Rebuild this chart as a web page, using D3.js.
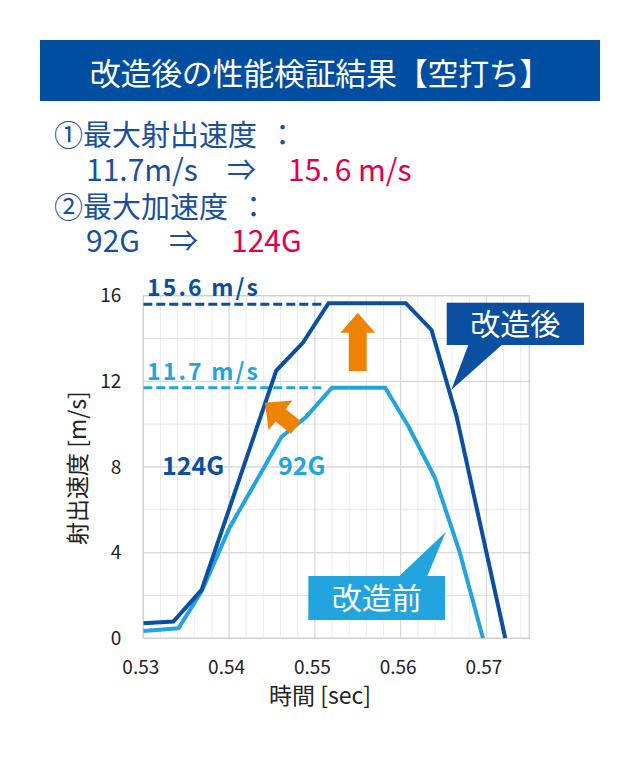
<!DOCTYPE html>
<html><head><meta charset="utf-8">
<script src="https://cdn.jsdelivr.net/npm/d3@7"></script>
<style>body{margin:0;background:#fff}svg{display:block}</style>
</head><body><svg id="c" width="640" height="760"></svg>
<script>
// ---- data ----
const timeAfter  = [0.5300, 0.5335, 0.5368, 0.5455, 0.5486, 0.5516, 0.5606, 0.5636, 0.5665, 0.5722];
const speedAfter = [0.70,   0.78,   2.26,   12.5,   13.8,   15.65,  15.65,  14.4,   10.4,   0];
const timeBefore  = [0.5300, 0.5341, 0.5368, 0.5401, 0.5461, 0.5490, 0.5520, 0.5582, 0.5609, 0.5640, 0.5669, 0.5696];
const speedBefore = [0.34,   0.47,   2.2,    5.2,    9.4,    10.35,  11.7,   11.7,   9.9,    7.5,    4.0,    0];
const refSpeeds = [15.6, 11.7];
const refLabels = ["15.6 m/s", "11.7 m/s"];
const refEnd = 0.5508;
const accelLabels = ["124G", "92G"];
const xTicks = [0.53, 0.54, 0.55, 0.56, 0.57];
const yTicks = [0, 4, 8, 12, 16];
const title = "改造後の性能検証結果【空打ち】";
const calloutLabels = ["改造後", "改造前"];

const C_DARK = "#0a4fa0", C_LIGHT = "#22a5de", C_ORANGE = "#ef8200", C_RED = "#e2004e", C_TXT = "#1a4f9c";
const FONT = "'Noto Sans CJK JP','Noto Sans',sans-serif";

const svg = d3.select("#c").attr("font-family", FONT);

// header
svg.append("rect").attr("x", 40).attr("y", 40).attr("width", 560).attr("height", 61).attr("fill", "#004ea2");
svg.append("text").attr("x", 320).attr("y", 85).attr("text-anchor", "middle").attr("fill", "#fff")
  .attr("font-size", 31).attr("letter-spacing", -0.3).text(title);

// summary text
const tb = svg.append("g").attr("font-size", 29);
function colonLine(yy, label) {
  const t = tb.append("text").attr("x", 54).attr("y", yy).attr("fill", C_TXT);
  t.append("tspan").text(label);
  t.append("tspan").attr("dx", 11).text("：");
}
colonLine(146, "①最大射出速度");
tb.append("text").attr("x", 86).attr("y", 181).attr("fill", C_TXT).attr("font-size", 30).text("11.7m/s");
tb.append("text").attr("x", 227).attr("y", 181).attr("fill", C_TXT).text("⇒");
const t15 = tb.append("text").attr("x", 288).attr("y", 181).attr("fill", C_RED).attr("font-size", 30);
t15.append("tspan").text("15.");
t15.append("tspan").attr("dx", 5).text("6 m/s");
colonLine(218, "②最大加速度");
tb.append("text").attr("x", 86).attr("y", 252).attr("fill", C_TXT).attr("font-size", 30).text("92G");
tb.append("text").attr("x", 169).attr("y", 252).attr("fill", C_TXT).text("⇒");
tb.append("text").attr("x", 231).attr("y", 252).attr("fill", C_RED).attr("font-size", 30).text("124G");

// scales
const x = d3.scaleLinear().domain([0.53, 0.575]).range([143.3, 529.3]);
const y = d3.scaleLinear().domain([0, 16]).range([638.3, 295.7]);

// grid
const grid = svg.append("g");
const minorX = d3.range(0.53, 0.5751, 0.002), minorY = d3.range(0, 16.01, 2);
grid.selectAll(".mx").data(minorX).join("line")
  .attr("x1", d => x(d)).attr("x2", d => x(d)).attr("y1", y(0)).attr("y2", y(16))
  .attr("stroke", "#ececec").attr("stroke-width", 1);
grid.selectAll(".my").data(minorY).join("line")
  .attr("y1", d => y(d)).attr("y2", d => y(d)).attr("x1", x(0.53)).attr("x2", x(0.575))
  .attr("stroke", "#e4e4e4").attr("stroke-width", 1);
grid.selectAll(".Mx").data(xTicks).join("line")
  .attr("x1", d => x(d)).attr("x2", d => x(d)).attr("y1", y(0)).attr("y2", y(16))
  .attr("stroke", "#d6d6d6").attr("stroke-width", 1);
grid.selectAll(".My").data(yTicks).join("line")
  .attr("y1", d => y(d)).attr("y2", d => y(d)).attr("x1", x(0.53)).attr("x2", x(0.575))
  .attr("stroke", "#d6d6d6").attr("stroke-width", 1);
grid.append("rect").attr("x", x(0.53)).attr("y", y(16)).attr("width", x(0.575) - x(0.53)).attr("height", y(0) - y(16))
  .attr("fill", "none").attr("stroke", "#cfcfcf").attr("stroke-width", 1.2);

// axes (labels only)
const xAxis = svg.append("g").attr("transform", `translate(-3,${y(0)})`)
  .call(d3.axisBottom(x).tickValues(xTicks).tickSize(0).tickPadding(22).tickFormat(d3.format(".2f")));
const yAxis = svg.append("g").attr("transform", `translate(${x(0.53) - 2},0)`)
  .call(d3.axisLeft(y).tickValues(yTicks).tickSize(0).tickPadding(20));
[xAxis, yAxis].forEach(a => {
  a.select(".domain").remove();
  a.selectAll("text").attr("font-family", FONT).attr("font-size", 19).attr("fill", "#222");
});
svg.append("text").attr("x", 320).attr("y", 704).attr("text-anchor", "middle").attr("font-size", 23).attr("fill", "#222").text("時間 [sec]");
svg.append("text").attr("transform", "translate(86,468) rotate(-90)").attr("text-anchor", "middle").attr("font-size", 23).attr("fill", "#222").text("射出速度 [m/s]");

// clip
svg.append("clipPath").attr("id", "pc").append("rect")
  .attr("x", x(0.53)).attr("y", y(16) - 20).attr("width", x(0.575) - x(0.53)).attr("height", y(0) - y(16) + 20);

const line = d3.line().x(d => x(d[0])).y(d => y(d[1]));
const plot = svg.append("g").attr("clip-path", "url(#pc)");
// reference dashed lines
plot.selectAll(".ref").data(refSpeeds).join("line")
  .attr("x1", x(0.53)).attr("x2", x(refEnd)).attr("y1", d => y(d)).attr("y2", d => y(d))
  .attr("stroke", (d, i) => i ? C_LIGHT : C_DARK).attr("stroke-width", 3).attr("stroke-dasharray", "9,4");
plot.append("path").attr("d", line(d3.zip(timeBefore, speedBefore))).attr("fill", "none")
  .attr("stroke", C_LIGHT).attr("stroke-width", 4).attr("stroke-linejoin", "miter");
plot.append("path").attr("d", line(d3.zip(timeAfter, speedAfter))).attr("fill", "none")
  .attr("stroke", C_DARK).attr("stroke-width", 4).attr("stroke-linejoin", "miter");

// reference labels
svg.selectAll(".rl").data(refLabels).join("text")
  .attr("x", 147).attr("y", (d, i) => y(refSpeeds[i]) - 8)
  .attr("font-size", 23).attr("font-weight", "bold").attr("fill", (d, i) => i ? C_LIGHT : C_DARK)
  .attr("textLength", 111).attr("lengthAdjust", "spacing").text(d => d);

// accel labels
svg.append("text").attr("x", 162).attr("y", 475).attr("font-size", 25).attr("font-weight", "bold").attr("fill", C_DARK).text(accelLabels[0]);
svg.append("text").attr("x", 278).attr("y", 475).attr("font-size", 25).attr("font-weight", "bold").attr("fill", C_LIGHT).text(accelLabels[1]);

// orange arrows
function arrow(x1, y1, x2, y2, sw, hw, hl) {
  const dx = x2 - x1, dy = y2 - y1, L = Math.hypot(dx, dy), ux = dx / L, uy = dy / L, px = -uy, py = ux;
  const bx = x2 - ux * hl, by = y2 - uy * hl;
  const pts = [[x1 + px * sw, y1 + py * sw], [bx + px * sw, by + py * sw], [bx + px * hw, by + py * hw], [x2, y2],
    [bx - px * hw, by - py * hw], [bx - px * sw, by - py * sw], [x1 - px * sw, y1 - py * sw]];
  return "M" + pts.map(p => p.join(",")).join("L") + "Z";
}
svg.append("path").attr("d", arrow(x(0.5550), y(12.48), x(0.5550), y(15.2), 8.9, 17.3, 20)).attr("fill", C_ORANGE);
svg.append("path").attr("d", arrow(x(0.54779), y(9.84), x(0.54418), y(11.0), 8, 19, 20)).attr("fill", C_ORANGE);

// callouts
function callout(tipT, tipV, bx0, by0, bw, bh, p1, p2, color, label) {
  const g = svg.append("g");
  const tx = x(tipT), ty = y(tipV);
  const baseY = by0 > ty ? by0 : by0 + bh;
  g.append("path").attr("d", `M${p1},${baseY}L${tx},${ty}L${p2},${baseY}Z`).attr("fill", color);
  g.append("rect").attr("x", bx0).attr("y", by0).attr("width", bw).attr("height", bh).attr("fill", color);
  g.append("text").attr("x", bx0 + bw / 2).attr("y", by0 + bh / 2 + 11).attr("text-anchor", "middle")
    .attr("font-size", 30).attr("fill", "#fff").text(label);
}
callout(0.5659, 11.6, 446.7, 302.7, 137.3, 42.3, 468.3, 501.7, C_DARK, calloutLabels[0]);
callout(0.56528, 4.98, 308.3, 576, 136.7, 44, 399.3, 427.3, C_LIGHT, calloutLabels[1]);
</script></body></html>
